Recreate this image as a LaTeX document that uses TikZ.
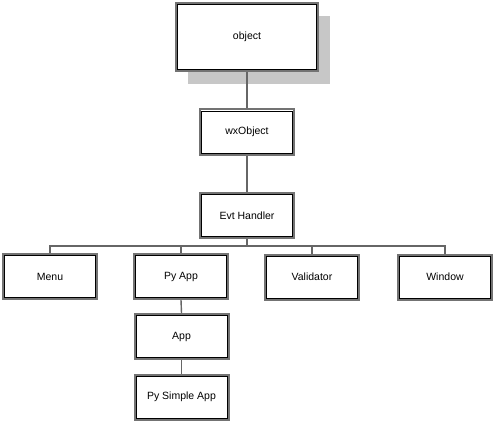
\documentclass[tikz,border=0pt]{standalone}
\usepackage{fontspec}
\setmainfont{Liberation Sans}
\usetikzlibrary{positioning,calc,shadows}

\tikzset{
  cls/.style={draw=gray!90!black, line width=2pt, fill=white, minimum width=94pt,
    minimum height=45pt, font=\fontsize{10.5}{12}\selectfont},
  inner/.style={draw=black, line width=0.8pt},
  link/.style={draw=gray!80!black, line width=1.4pt}
}

\begin{document}
\begin{tikzpicture}[x=1pt,y=-1pt]
  \useasboundingbox (0,0) rectangle (494,422);

  \node[cls, minimum width=142pt, minimum height=68pt,
        drop shadow={shadow xshift=12pt, shadow yshift=-13pt, fill=black!22, opacity=1}]
        (obj) at (247,37) {object};
  \node[cls] (wx) at (247,132) {wxObject};
  \node[cls] (evt) at (247,215.5) {Evt Handler};

  \node[cls] (menu) at (50,276.5) {Menu};
  \node[cls] (pyapp) at (181,276.5) {Py App};
  \node[cls] (valid) at (312,277) {Validator};
  \node[cls] (win) at (445,277) {Window};

  \node[cls] (app) at (181.5,336.5) {App};
  \node[cls] (simple) at (181.5,397) {Py Simple App};

  % inner black frame of every box
  \foreach \n in {obj,wx,evt,menu,pyapp,valid,win,app,simple}
    \draw[inner] ($(\n.south west)+(2.6,-2.6)$) rectangle ($(\n.north east)+(-2.6,2.6)$);

  \draw[link] (obj.south) -- (wx.north);
  \draw[link] (wx.south) -- (evt.north);
  \coordinate (bus) at (247,246);
  \draw[link] (evt.south) -- (bus);
  \draw[link] (bus) -| (menu.north);
  \draw[link] (bus) -| (pyapp.north);
  \draw[link] (bus) -| (valid.north);
  \draw[link] (bus) -| (win.north);
  \draw[link] (pyapp.south) -- (app.north);
  \draw[link] (app.south) -- (simple.north);
\end{tikzpicture}
\end{document}
